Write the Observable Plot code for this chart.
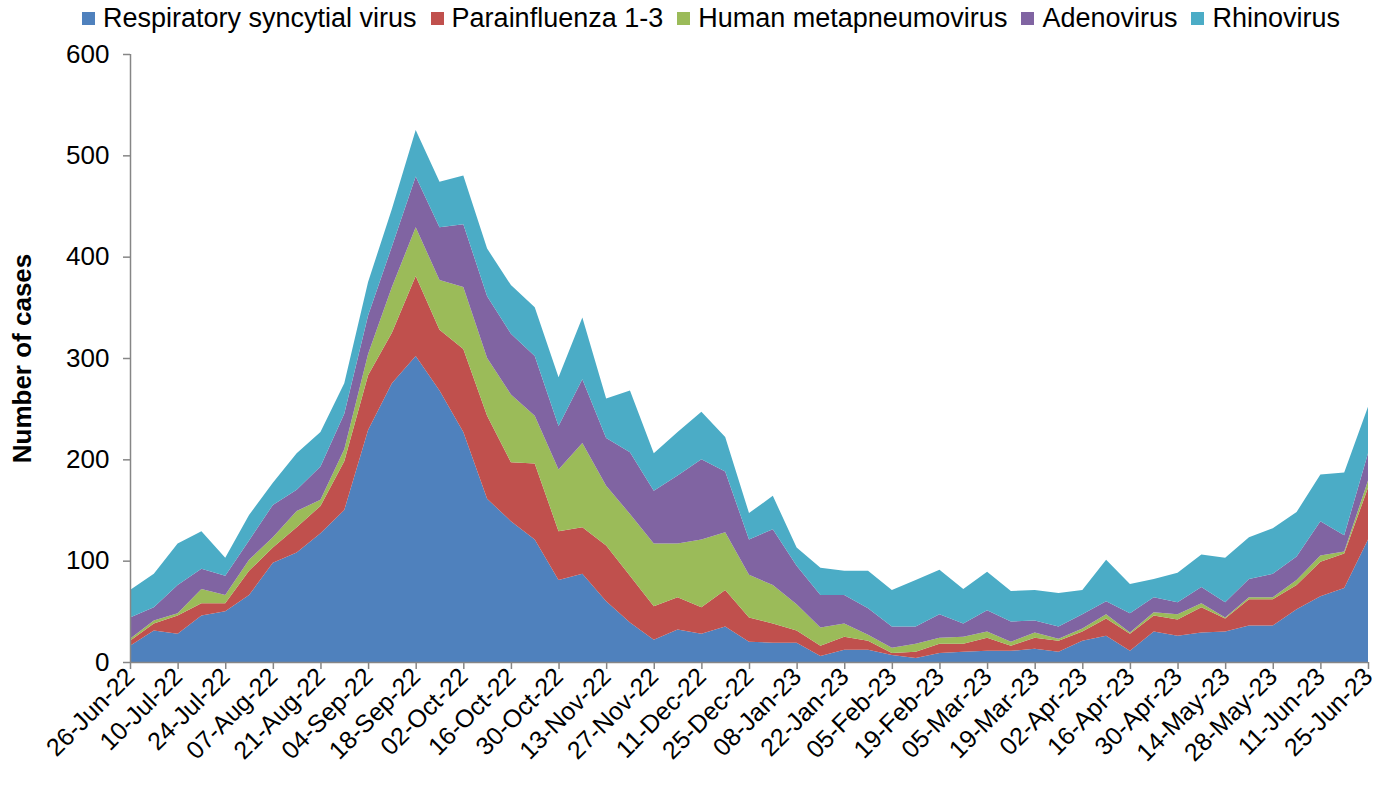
<!DOCTYPE html>
<html>
<head>
<meta charset="utf-8">
<script src="https://cdn.jsdelivr.net/npm/d3@7"></script>
<script src="https://cdn.jsdelivr.net/npm/@observablehq/plot@0.6"></script>
<style>
  body { margin: 0; background: #fff; font-family: "Liberation Sans", Arial, sans-serif; }
  #legend { height: 36px; display: flex; align-items: center; padding-left: 82px; font-size: 27px; line-height: 36px; color: #000; white-space: nowrap; }
  #legend .item { display: flex; align-items: center; margin-right: 14px; }
  #legend .sw { width: 13px; height: 13px; margin-right: 8px; }
  svg { display: block; font-family: "Liberation Sans", Arial, sans-serif; }
</style>
</head>
<body>
<div id="legend"></div>
<div id="chart"></div>
<script>
const weeks = ["26-Jun-22","03-Jul-22","10-Jul-22","17-Jul-22","24-Jul-22","31-Jul-22","07-Aug-22","14-Aug-22","21-Aug-22","28-Aug-22",
  "04-Sep-22","11-Sep-22","18-Sep-22","25-Sep-22","02-Oct-22","09-Oct-22","16-Oct-22","23-Oct-22","30-Oct-22","06-Nov-22",
  "13-Nov-22","20-Nov-22","27-Nov-22","04-Dec-22","11-Dec-22","18-Dec-22","25-Dec-22","01-Jan-23","08-Jan-23","15-Jan-23",
  "22-Jan-23","29-Jan-23","05-Feb-23","12-Feb-23","19-Feb-23","26-Feb-23","05-Mar-23","12-Mar-23","19-Mar-23","26-Mar-23",
  "02-Apr-23","09-Apr-23","16-Apr-23","23-Apr-23","30-Apr-23","07-May-23","14-May-23","21-May-23","28-May-23","04-Jun-23",
  "11-Jun-23","18-Jun-23","25-Jun-23"];
const tickLabels = ["26-Jun-22","10-Jul-22","24-Jul-22","07-Aug-22","21-Aug-22","04-Sep-22","18-Sep-22","02-Oct-22","16-Oct-22",
  "30-Oct-22","13-Nov-22","27-Nov-22","11-Dec-22","25-Dec-22","08-Jan-23","22-Jan-23","05-Feb-23","19-Feb-23","05-Mar-23",
  "19-Mar-23","02-Apr-23","16-Apr-23","30-Apr-23","14-May-23","28-May-23","11-Jun-23","25-Jun-23"];
const yTicks = [0, 100, 200, 300, 400, 500, 600];

const series = ["Respiratory syncytial virus", "Parainfluenza 1-3", "Human metapneumovirus", "Adenovirus", "Rhinovirus"];
const colors = ["#4F81BD", "#C0504D", "#9BBB59", "#8064A2", "#4BACC6"];

const rsv = [16,31,28,46,50,66,98,108,127,150,229,275,302,268,227,161,139,121,81,87,60,39,22,32,28,35,20,19,19,6,12,12,7,4,9,10,11,11,13,10,21,26,11,30,26,29,30,36,36,52,65,73,121];
const para = [5,7,18,12,8,24,15,25,27,48,54,50,79,60,82,82,58,75,48,46,55,46,33,32,26,36,24,19,12,10,13,9,2,6,9,8,13,5,11,11,9,17,17,16,16,25,13,26,26,24,34,34,51];
const hmpv = [2,3,2,14,8,11,10,16,6,12,21,45,48,49,61,57,67,47,61,83,59,61,62,53,67,57,42,38,26,18,13,6,5,8,6,7,6,4,5,2,3,4,1,3,5,4,1,2,2,5,6,2,7];
const adeno = [21,13,28,20,19,19,32,21,33,35,38,40,50,52,62,61,60,59,43,63,47,61,52,67,79,60,35,55,38,32,28,26,21,17,23,13,21,20,12,12,14,13,19,15,12,16,15,18,23,23,34,16,27];
const rhino = [27,33,41,37,18,25,22,36,34,30,33,37,46,45,48,47,48,48,48,61,39,61,37,43,47,34,26,33,18,27,24,37,36,46,44,34,38,30,30,33,24,41,29,18,29,32,44,41,45,44,46,62,46];

const values = [rsv, para, hmpv, adeno, rhino];
const parse = d3.utcParse("%d-%b-%y");
const fmt = d3.utcFormat("%d-%b-%y");
const dates = weeks.map(parse);
const tickDates = tickLabels.map(parse);

const data = [];
series.forEach((s, si) => {
  values[si].forEach((v, i) => data.push({date: dates[i], virus: s, value: v}));
});

// legend
const legend = document.getElementById("legend");
series.forEach((s, i) => {
  const it = document.createElement("div");
  it.className = "item";
  it.innerHTML = `<span class="sw" style="background:${colors[i]}"></span><span>${s}</span>`;
  legend.appendChild(it);
});

const gray = "#868686";
const chart = Plot.plot({
  width: 1386,
  height: 751,
  marginTop: 18,
  marginBottom: 125,
  marginLeft: 130,
  marginRight: 18,
  style: {background: "#fff", fontFamily: "Liberation Sans, Arial, sans-serif", overflow: "visible"},
  x: {type: "utc", domain: [dates[0], dates[dates.length - 1]]},
  y: {domain: [0, 600]},
  color: {domain: series, range: colors},
  marks: [
    Plot.areaY(data, {x: "date", y: "value", z: "virus", fill: "virus", order: series}),
    Plot.ruleY([0], {stroke: gray, strokeWidth: 1.5}),
    Plot.ruleX([dates[0]], {stroke: gray, strokeWidth: 1.5}),
    Plot.axisY({ticks: yTicks, tickSize: 7, tickPadding: 14, fontSize: 26, stroke: gray, strokeWidth: 1.5, fill: "#000", label: null}),
    Plot.axisX({ticks: tickDates, tickFormat: fmt, tickRotate: -45, tickSize: 7, tickPadding: 3, fontSize: 25, stroke: gray, strokeWidth: 1.5, fill: "#000", label: null}),
    Plot.text(["Number of cases"], {frameAnchor: "left", rotate: -90, dx: -108, fontSize: 26, fontWeight: "bold", fill: "#000", textAnchor: "middle", lineAnchor: "middle"})
  ]
});
document.getElementById("chart").appendChild(chart);
</script>
</body>
</html>
